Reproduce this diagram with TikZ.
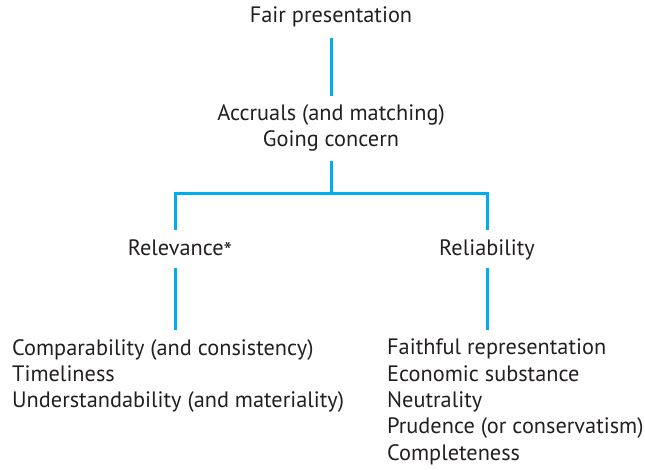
\documentclass[tikz,border=0pt]{standalone}
\usepackage{fontspec}
\setmainfont{PT Sans}
\definecolor{linecol}{RGB}{0,174,239}
\definecolor{textcol}{RGB}{35,31,32}
\begin{document}
\begin{tikzpicture}[x=1pt,y=-1pt,
  lbl/.style={inner sep=0pt, text=textcol, font=\fontsize{22.3}{26.3}\selectfont, align=center},
  lst/.style={lbl, align=left, anchor=north west},
  conn/.style={draw=linecol, line width=3pt}]
\useasboundingbox (0,0) rectangle (645,469);
\node[lbl] (fair) at (331,17) {Fair presentation};
\node[lbl] (accr) at (331,128) {Accruals (and matching)\\Going concern};
\node[lbl] (relev) at (180,250) {Relevance\raisebox{-0.35ex}{\fontsize{24}{24}\selectfont*}};
\node[lbl] (relia) at (487,250) {Reliability};
\node[lst] (leftlist) at (12,339) {Comparability (and consistency)\\Timeliness\\Understandability (and materiality)};
\node[lst] (rightlist) at (387,339) {Faithful representation\\Economic substance\\Neutrality\\Prudence (or conservatism)\\Completeness};
\coordinate (fairB) at (331,38);
\coordinate (accrT) at (331,96);
\coordinate (accrB) at (331,161);
\coordinate (split) at (331,193);
\coordinate (lT) at (175,230);
\coordinate (rT) at (487,230);
\coordinate (lB1) at (175,268);
\coordinate (lB2) at (175,330);
\coordinate (rB1) at (487,268);
\coordinate (rB2) at (487,330);
\draw[conn] (fairB) -- (accrT);
\draw[conn] (accrB) -- (split);
\draw[conn] (lT) |- (split) -| (rT);
\draw[conn] (lB1) -- (lB2);
\draw[conn] (rB1) -- (rB2);
\end{tikzpicture}
\end{document}
